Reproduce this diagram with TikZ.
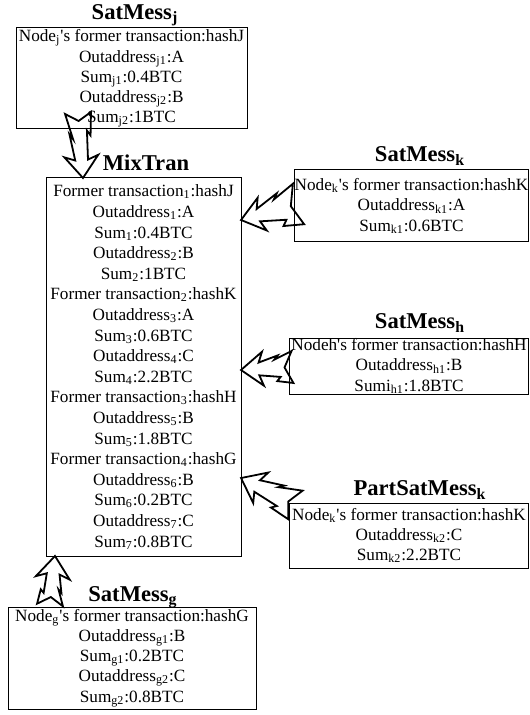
\documentclass[tikz,border=0pt]{standalone}
\usepackage{fontspec}
\setmainfont{Liberation Serif}
\usetikzlibrary{positioning}

% hollow zigzag arrow from #2 (tail) to #3 (tip), #1 = half width of the tail
\newcommand{\zigarrow}[3][8]{%
  \pgfpointdiff{\pgfpointanchor{#2}{center}}{\pgfpointanchor{#3}{center}}%
  \pgfgetlastxy{\zzdx}{\zzdy}%
  \pgfmathsetmacro{\zzang}{atan2(\zzdy,\zzdx)}%
  \pgfmathsetmacro{\zzlen}{veclen(\zzdx,\zzdy)}%
  \pgfmathsetmacro{\zzk}{\zzlen-11}%
  \pgfmathsetmacro{\zzn}{\zzlen-9}%
  \pgfmathsetmacro{\zzw}{#1}%
  \begin{scope}[shift={(#2)}, rotate=\zzang, x=1pt, y=1pt]
    \draw[zigline] (0,\zzw) -- (4,0) -- (0,-\zzw) -- ({0.6*\zzk},{-0.5*\zzw-0.2}) -- ({0.48*\zzk},{-0.75*\zzw-0.2})
      -- (\zzn,-3.2) -- (\zzk,-8.5) -- (\zzlen,0) -- (\zzk,8.5) -- (\zzn,3.2)
      -- ({0.42*\zzk},{0.55*\zzw+0.2}) -- ({0.54*\zzk},{0.8*\zzw+0.2}) -- cycle;
  \end{scope}}

\begin{document}
\begin{tikzpicture}[x=0.5pt, y=-0.5pt, msgbox/.style={draw, line width=0.5pt, inner sep=0pt, outer sep=0pt, align=center, font=\fontsize{8.6pt}{10.1pt}\selectfont}, msgtitle/.style={inner sep=0pt, font=\fontsize{11.3pt}{13pt}\selectfont\bfseries}, zigline/.style={line width=0.9pt, line join=miter}]
\useasboundingbox (0,0) rectangle (529,715);
\node[msgtitle] (tj) at (135,15) {SatMess\textsubscript{j}};
\node[msgbox, minimum width=115.5pt, minimum height=50.5pt] (jbox) at (131.5,78.5) {Node\textsubscript{j}\textquotesingle s former transaction:hashJ\\ Outaddress\textsubscript{j1}:A\\ Sum\textsubscript{j1}:0.4BTC\\ Outaddress\textsubscript{j2}:B\\ Sum\textsubscript{j2}:1BTC};
\node[msgtitle] (tmix) at (146,163) {MixTran};
\node[msgbox, minimum width=97.5pt, minimum height=189pt, font=\fontsize{8.6pt}{10.3pt}\selectfont] (mix) at (143.5,367) {Former transaction\textsubscript{1}:hashJ\\ Outaddress\textsubscript{1}:A\\ Sum\textsubscript{1}:0.4BTC\\ Outaddress\textsubscript{2}:B\\ Sum\textsubscript{2}:1BTC\\ Former transaction\textsubscript{2}:hashK\\ Outaddress\textsubscript{3}:A\\ Sum\textsubscript{3}:0.6BTC\\ Outaddress\textsubscript{4}:C\\ Sum\textsubscript{4}:2.2BTC\\ Former transaction\textsubscript{3}:hashH\\ Outaddress\textsubscript{5}:B\\ Sum\textsubscript{5}:1.8BTC\\ Former transaction\textsubscript{4}:hashG\\ Outaddress\textsubscript{6}:B\\ Sum\textsubscript{6}:0.2BTC\\ Outaddress\textsubscript{7}:C\\ Sum\textsubscript{7}:0.8BTC};
\node[msgtitle] (tk) at (420,156) {SatMess\textsubscript{k}};
\node[msgbox, minimum width=117pt, minimum height=36pt] (kbox) at (411.5,206) {Node\textsubscript{k}\textquotesingle s former transaction:hashK\\ Outaddress\textsubscript{k1}:A\\ Sum\textsubscript{k1}:0.6BTC};
\node[msgtitle] (th) at (420,323) {SatMess\textsubscript{h}};
\node[msgbox, minimum width=119.5pt, minimum height=28pt] (hbox) at (409,366) {Nodeh\textquotesingle s former transaction:hashH\\ Outaddress\textsubscript{h1}:B\\ Sumi\textsubscript{h1}:1.8BTC};
\node[msgtitle] (tpk) at (420,490) {PartSatMess\textsubscript{k}};
\node[msgbox, minimum width=119.5pt, minimum height=32.5pt] (pkbox) at (409,535.5) {Node\textsubscript{k}\textquotesingle s former transaction:hashK\\ Outaddress\textsubscript{k2}:C\\ Sum\textsubscript{k2}:2.2BTC};
\node[msgtitle] (tg) at (133,597) {SatMess\textsubscript{g}};
\node[msgbox, minimum width=124pt, minimum height=51pt] (gbox) at (132,658) {Node\textsubscript{g}\textquotesingle s former transaction:hashG\\ Outaddress\textsubscript{g1}:B\\ Sum\textsubscript{g1}:0.2BTC\\ Outaddress\textsubscript{g2}:C\\ Sum\textsubscript{g2}:0.8BTC};
% arrow ends
\coordinate (jtail) at ([xshift=31pt, yshift=8pt]jbox.south west);
\coordinate (jtip) at ([xshift=18.5pt]mix.north west);
\coordinate (ktail) at ([xshift=2pt, yshift=1pt]kbox.west);
\coordinate (ktip) at ([yshift=-21pt]mix.north east);
\coordinate (htail) at ([xshift=1.5pt, yshift=-0.5pt]hbox.west);
\coordinate (htip) at ([yshift=-96pt]mix.north east);
\coordinate (pktail) at ([xshift=3pt, yshift=-1pt]pkbox.north west);
\coordinate (pktip) at ([yshift=-150pt]mix.north east);
\coordinate (gtail) at ([xshift=21pt, yshift=1pt]gbox.north west);
\coordinate (gtip) at ([xshift=4.5pt]mix.south west);
\zigarrow[6.5]{jtail}{jtip}
\zigarrow[10.5]{ktail}{ktip}
\zigarrow{htail}{htip}
\zigarrow{pktail}{pktip}
\zigarrow[6.5]{gtail}{gtip}
\end{tikzpicture}
\end{document}
